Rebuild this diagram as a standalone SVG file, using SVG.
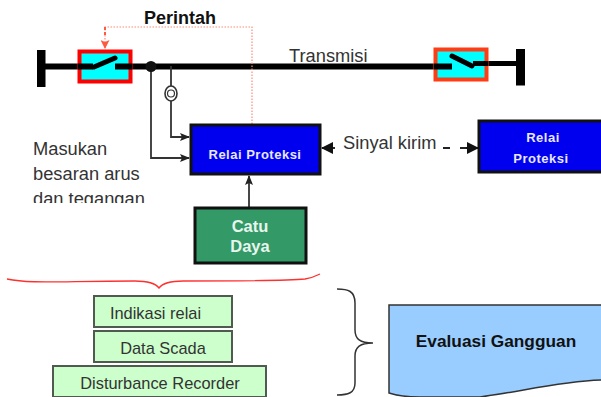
<svg xmlns="http://www.w3.org/2000/svg" width="601" height="397" viewBox="0 0 601 397">
<style>
.s{font-family:"Liberation Sans",Arial,sans-serif}
.lbl{font-size:18.3px;fill:#333}
.w{font-size:13px;font-weight:bold;fill:#e8e8ff;text-anchor:middle;letter-spacing:.5px}
.cd{font-size:16.5px;font-weight:bold;fill:#e8f5ee;text-anchor:middle}
.g{font-size:16.400px;fill:#333;text-anchor:middle}
.box{fill:#ccffcc;stroke:#505a50;stroke-width:2}
.blue{fill:#0000ee;stroke:#111;stroke-width:3}
.k{fill:none;stroke:#333;stroke-width:1.800}
.bus{fill:none;stroke:#000;stroke-width:6}
.thin{fill:none;stroke:#000;stroke-width:5}
</style>
<defs>
<marker id="a" markerWidth="10" markerHeight="8" refX="9" refY="4" orient="auto" markerUnits="userSpaceOnUse"><path d="M0 0L10 4L0 8L2 4Z" fill="#222"/></marker>
<marker id="b" markerWidth="12" markerHeight="12" refX="11" refY="6" orient="auto-start-reverse" markerUnits="userSpaceOnUse"><path d="M0 0L12 6L0 12Z" fill="#111"/></marker>
<marker id="r" markerWidth="9" markerHeight="9" refX="8" refY="4.500" orient="auto" markerUnits="userSpaceOnUse"><path d="M0 0L9 4.500L0 9L2 4.500Z" fill="#ff5a40"/></marker>
<clipPath id="c"><rect x="20" y="130" width="150" height="73"/></clipPath>
</defs>
<g id="connectors">
<path d="M45 66.500H93M115 66.500H452" class="bus"/>
<path d="M473 63.500H518" class="thin"/>
<path d="M151 66V158H189" class="k" marker-end="url(#a)"/>
<path d="M171 66V137H189" class="k" marker-end="url(#a)"/>
<path d="M249 207V176" class="k" marker-end="url(#a)"/>
<path d="M252 127V27H105V48" fill="none" stroke="#ff8a78" stroke-width="1.200" stroke-dasharray="1.500 1.500" marker-end="url(#r)"/>
<path d="M105 27V35" stroke="#ff5a40" stroke-width="2" stroke-dasharray="3 2"/>
<path d="M443 148H450M460 148H470" fill="none" stroke="#222" stroke-width="1.800"/>
<path d="M335 148H322" stroke="#111" stroke-width="1.800" marker-end="url(#b)"/>
<path d="M466 148H478" stroke="#111" stroke-width="1.800" marker-end="url(#b)"/>
</g>
<g id="bus-left"><rect x="37" y="50" width="8.500" height="37" fill="#000"/></g>
<g id="bus-right"><rect x="516" y="49" width="9" height="36.500" fill="#000"/></g>
<g id="breaker-left">
<rect x="79.500" y="51.500" width="51" height="30" fill="#00ffff" stroke="#ff0000" stroke-width="4"/>
<path d="M78 66.500H93M115 66.500H132" class="bus"/>
<path d="M94 67L115 58" fill="none" stroke="#000" stroke-width="5" stroke-linecap="round"/>
</g>
<g id="breaker-right">
<rect x="435.500" y="49.500" width="51" height="30" fill="#00ffff" stroke="#ff3c14" stroke-width="4"/>
<path d="M434 66.500H452" class="bus"/>
<path d="M473 63.500H488" class="thin"/>
<path d="M452 56L472 66" fill="none" stroke="#000" stroke-width="5" stroke-linecap="round"/>
</g>
<g id="junction"><circle cx="151" cy="66.500" r="5.500" fill="#111"/></g>
<g id="ct">
<ellipse cx="171" cy="93.500" rx="6" ry="7.500" fill="#fff" stroke="#333" stroke-width="1.600"/>
<circle cx="171" cy="93.500" r="3.500" fill="none" stroke="#333" stroke-width="1.200"/>
</g>
<g id="label-perintah"><text x="180" y="24" class="s" font-size="18" font-weight="bold" fill="#111" text-anchor="middle">Perintah</text></g>
<g id="label-transmisi"><text x="289" y="62" class="s lbl">Transmisi</text></g>
<g id="label-masukan" clip-path="url(#c)" class="s lbl">
<text x="33" y="155">Masukan</text>
<text x="33" y="180">besaran arus</text>
<text x="33" y="205">dan tegangan</text>
</g>
<g id="relay-main"><rect x="191" y="125" width="129" height="49" class="blue"/><text x="255" y="159" class="s w">Relai Proteksi</text></g>
<g id="label-sinyal"><text x="343" y="149" class="s lbl">Sinyal kirim</text></g>
<g id="relay-remote"><rect x="479" y="121" width="124" height="51" class="blue"/><text x="543" y="142" class="s w">Relai</text><text x="541" y="163" class="s w">Proteksi</text></g>
<g id="catu-daya"><rect x="195" y="208" width="111" height="55" fill="#339966" stroke="#111" stroke-width="3"/><text x="250" y="232" class="s cd">Catu</text><text x="250" y="252" class="s cd">Daya</text></g>
<g id="brace-red"><path d="M7 279C30 284 60 281 135 281C150 281 156 284 159 288C162 284 168 281 183 281C240 281 285 281 305 279C312 278 316 276 320 274" fill="none" stroke="#ff3030" stroke-width="1.300"/></g>
<g id="indikasi"><rect x="94" y="296" width="138" height="31" class="box"/><text x="155.500" y="319" class="s g">Indikasi relai</text></g>
<g id="scada"><rect x="94" y="331" width="138" height="31" class="box"/><text x="163" y="354" class="s g">Data Scada</text></g>
<g id="recorder"><rect x="53" y="366" width="213" height="31" class="box"/><text x="160" y="389" class="s g">Disturbance Recorder</text></g>
<g id="brace-black"><path d="M337 289C348 289 355 291 355 303V330C355 339 360 343 373 343C360 343 355 347 355 356V383C355 393 348 395 337 395" fill="none" stroke="#333" stroke-width="1.500"/></g>
<g id="evaluasi"><path d="M389 305H603V380C560 381 520 392 480 397H420C405 397 395 395 389 393Z" fill="#99ccff" stroke="#333" stroke-width="1.500"/><text x="496" y="347" class="s" font-size="17.300" font-weight="bold" fill="#111" text-anchor="middle">Evaluasi Gangguan</text></g>
</svg>
